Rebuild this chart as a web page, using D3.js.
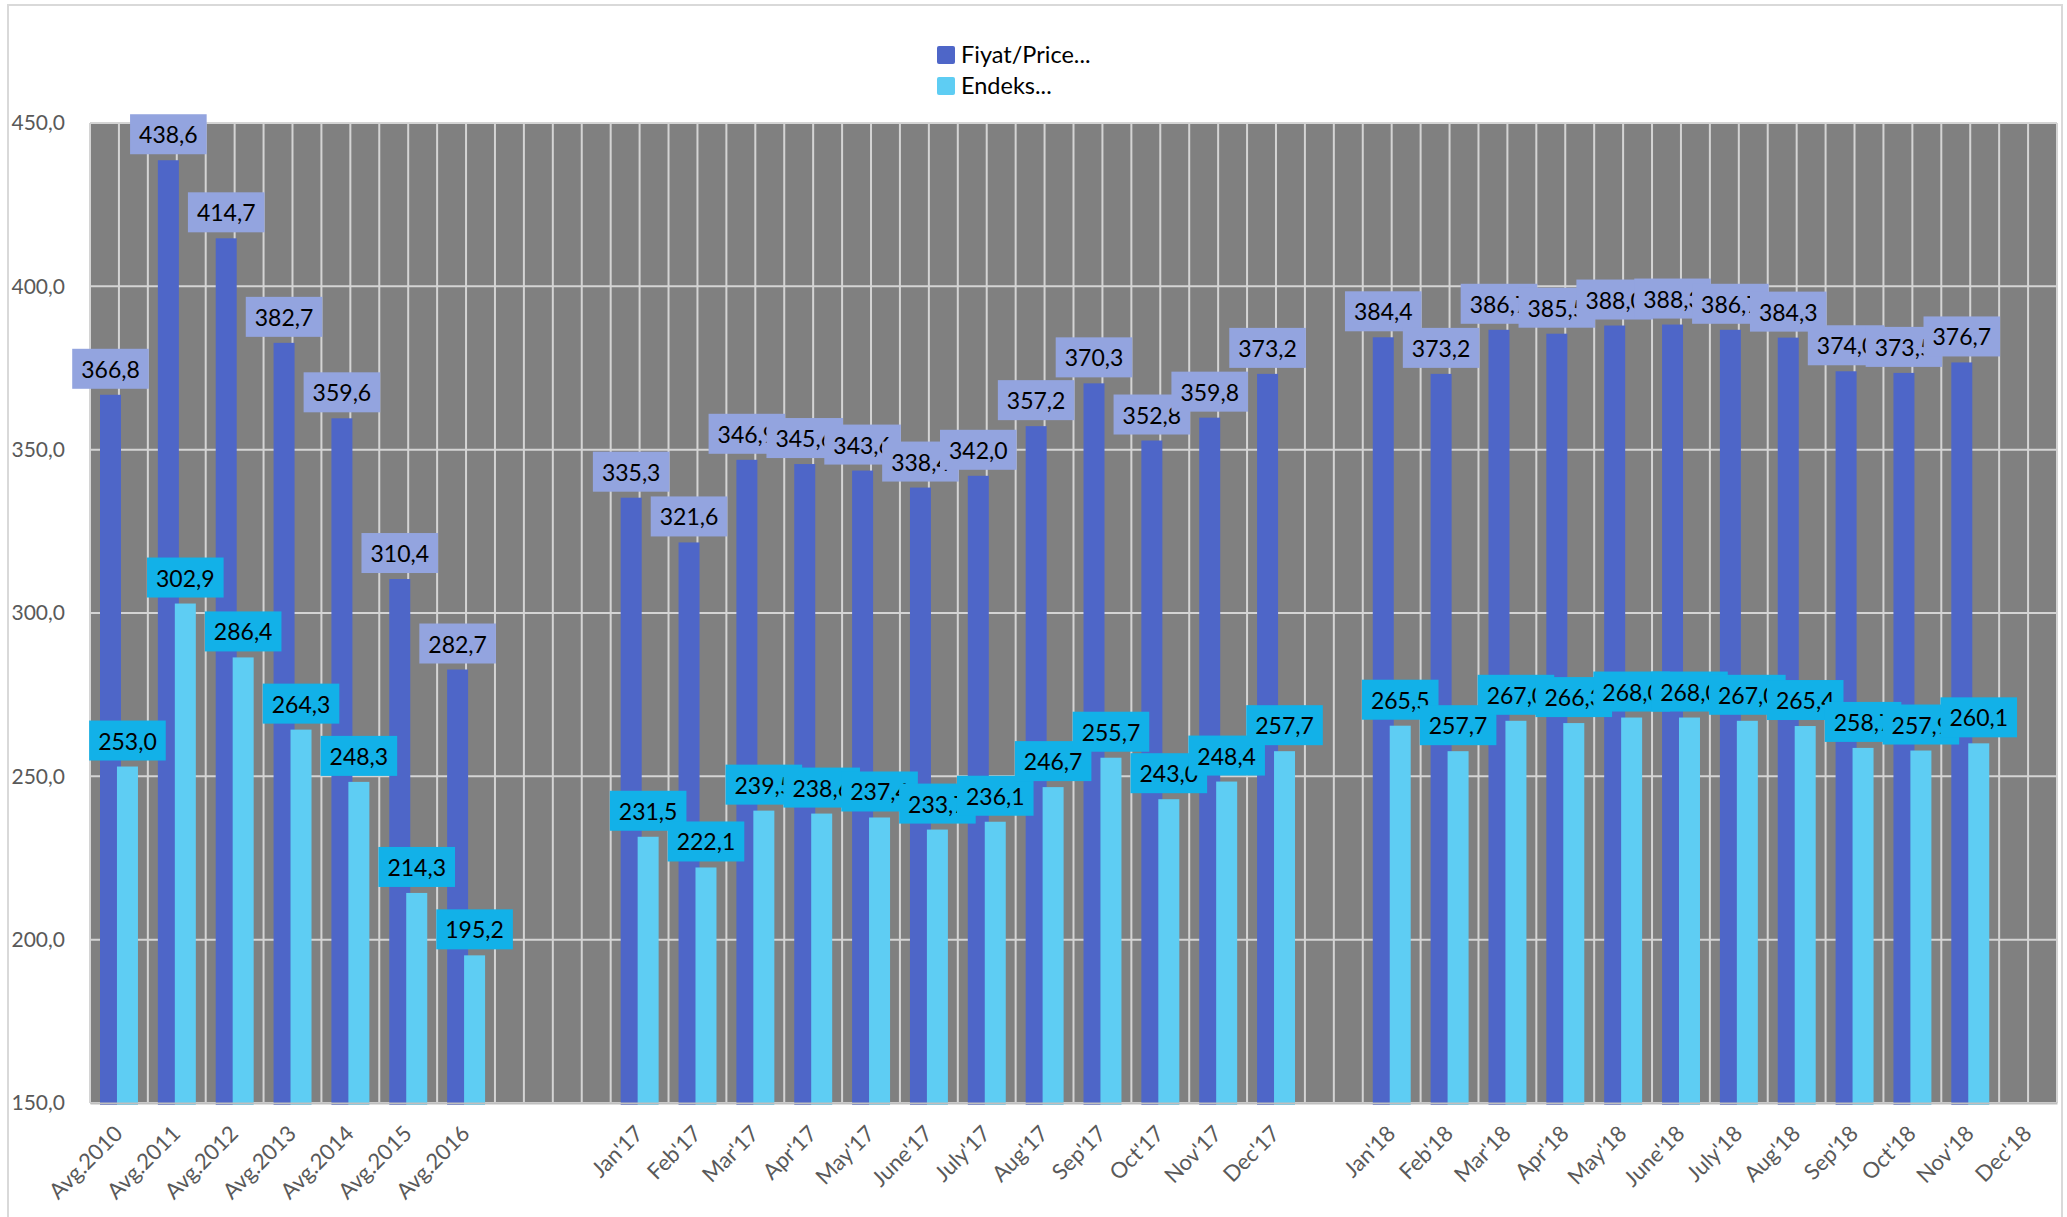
<!DOCTYPE html>
<html>
<head>
<meta charset="utf-8">
<script src="https://cdn.jsdelivr.net/npm/d3@7"></script>
<style>
  body { margin: 0; background: #fff; }
  svg { display: block; font-family: Lato, "Open Sans", sans-serif; }
</style>
</head>
<body>
<svg width="2067" height="1217"></svg>
<script>
var width = 2067,
    height = 1217;

// categories (blank ones are the gaps between groups)
var categories = ["Avg.2010", "Avg.2011", "Avg.2012", "Avg.2013", "Avg.2014", "Avg.2015", "Avg.2016", "", "",
    "Jan'17", "Feb'17", "Mar'17", "Apr'17", "May'17", "June'17", "July'17", "Aug'17", "Sep'17", "Oct'17", "Nov'17", "Dec'17", "",
    "Jan'18", "Feb'18", "Mar'18", "Apr'18", "May'18", "June'18", "July'18", "Aug'18", "Sep'18", "Oct'18", "Nov'18", "Dec'18"]

var price = [366.8, 438.6, 414.7, 382.7, 359.6, 310.4, 282.7, null, null,
    335.3, 321.6, 346.9, 345.6, 343.6, 338.4, 342.0, 357.2, 370.3, 352.8, 359.8, 373.2, null,
    384.4, 373.2, 386.7, 385.5, 388.0, 388.3, 386.7, 384.3, 374.0, 373.5, 376.7, null]

var endeks = [253.0, 302.9, 286.4, 264.3, 248.3, 214.3, 195.2, null, null,
    231.5, 222.1, 239.5, 238.6, 237.4, 233.7, 236.1, 246.7, 255.7, 243.0, 248.4, 257.7, null,
    265.5, 257.7, 267.0, 266.3, 268.0, 268.0, 267.0, 265.4, 258.7, 257.9, 260.1, null]

var yTicks = [150, 200, 250, 300, 350, 400, 450]
var seriesNames = ["Fiyat/Price...", "Endeks..."]

var colors = {"dark": "#4e66c8", "light": "#5ecdf3", "darkLabel": "#93a4df", "lightLabel": "#12b1e8"}

var margin = {left: 90, top: 123, right: 2057, bottom: 1103}

var svg = d3.select("svg")

// chart border
svg.append("rect")
    .attr("x", 8).attr("y", 5)
    .attr("width", 2054).attr("height", 1230)
    .attr("fill", "#fff")
    .attr("stroke", "#d9d9d9")
    .attr("stroke-width", 2)

var x = d3.scaleBand()
    .domain(d3.range(categories.length))
    .range([margin.left, margin.right])
    .padding(0)

var y = d3.scaleLinear()
    .domain([150, 450])
    .range([margin.bottom, margin.top])

var bw = x.bandwidth()

// plot background
svg.append("rect")
    .attr("x", margin.left).attr("y", margin.top)
    .attr("width", margin.right - margin.left)
    .attr("height", margin.bottom - margin.top)
    .attr("fill", "#808080")

// gridlines
var grid = svg.append("g").attr("stroke", "#d4d4d4").attr("stroke-width", 2)
var vlines = []
for (i = 0; i <= categories.length; i++) {
    vlines.push(margin.left + i * bw)
    if (i < categories.length) vlines.push(margin.left + i * bw + bw / 2)
}
grid.selectAll(".v").data(vlines).enter().append("line")
    .attr("x1", d => d).attr("x2", d => d)
    .attr("y1", margin.top).attr("y2", margin.bottom)
grid.selectAll(".h").data(yTicks).enter().append("line")
    .attr("x1", margin.left).attr("x2", margin.right)
    .attr("y1", d => y(d)).attr("y2", d => y(d))

// bars
var barW = bw * 0.363,
    barOff = bw * 0.173,
    overlap = bw * 0.07

function darkX(i) { return x(i) + barOff }
function lightX(i) { return x(i) + barOff + barW - overlap }

svg.append("g").attr("fill", colors.dark)
    .selectAll("rect")
    .data(price.map((v, i) => ({v: v, i: i})).filter(d => d.v != null))
    .enter().append("rect")
    .attr("x", d => darkX(d.i))
    .attr("y", d => y(d.v))
    .attr("width", barW)
    .attr("height", d => y(150) - y(d.v) + 2)

svg.append("g").attr("fill", colors.light)
    .selectAll("rect")
    .data(endeks.map((v, i) => ({v: v, i: i})).filter(d => d.v != null))
    .enter().append("rect")
    .attr("x", d => lightX(d.i))
    .attr("y", d => y(d.v))
    .attr("width", barW)
    .attr("height", d => y(150) - y(d.v) + 2)

// y axis
var yAxis = svg.append("g")
    .attr("transform", "translate(" + (margin.left - 22) + ",0)")
    .call(d3.axisLeft(y).tickValues(yTicks).tickSize(0)
        .tickFormat(d => d.toFixed(1).replace(".", ",")))
yAxis.select(".domain").remove()
yAxis.selectAll("text")
    .attr("fill", "#595959")
    .style("font-size", "21px")
    .style("font-family", "Lato, sans-serif")

// x axis
var xAxis = svg.append("g")
    .attr("transform", "translate(0," + margin.bottom + ")")
    .call(d3.axisBottom(x).tickSize(0).tickFormat(i => categories[i]))
xAxis.select(".domain").attr("stroke", "#bfbfbf").attr("stroke-width", 2)
xAxis.selectAll("text")
    .attr("fill", "#595959")
    .style("font-size", "22px")
    .style("font-family", "Lato, sans-serif")
    .attr("text-anchor", "end")
    .attr("dy", 0)
    .attr("y", 0)
    .attr("transform", "translate(5,32) rotate(-45)")

// data labels
function addLabels(values, barX, fill) {
    var g = svg.append("g")
    values.forEach(function (v, i) {
        if (v == null) return
        var cx = barX(i) + barW / 2
        var lg = g.append("g")
        var box = lg.append("rect").attr("fill", fill)
        var t = lg.append("text")
            .attr("x", cx)
            .attr("y", y(v) - 6 - 20)
            .attr("text-anchor", "middle")
            .attr("dominant-baseline", "central")
            .style("font-size", "23px")
            .attr("fill", "#000")
            .text(v.toFixed(1).replace(".", ","))
        var tw = t.node().getComputedTextLength()
        box.attr("x", cx - tw / 2 - 9)
            .attr("y", y(v) - 6 - 40)
            .attr("width", tw + 18)
            .attr("height", 40)
    })
}
addLabels(price, darkX, colors.darkLabel)
addLabels(endeks, lightX, colors.lightLabel)

// legend
var legend = svg.append("g")
    .attr("transform", "translate(937,46)")
var lItems = legend.selectAll("g")
    .data(seriesNames)
    .enter().append("g")
    .attr("transform", (d, i) => "translate(0," + i * 31 + ")")
lItems.append("rect")
    .attr("width", 18).attr("height", 18).attr("rx", 2)
    .attr("fill", (d, i) => i == 0 ? colors.dark : colors.light)
lItems.append("text")
    .attr("x", 24).attr("y", 17)
    .style("font-size", "23.5px")
    .attr("fill", "#000")
    .text(d => d)
</script>
</body>
</html>
